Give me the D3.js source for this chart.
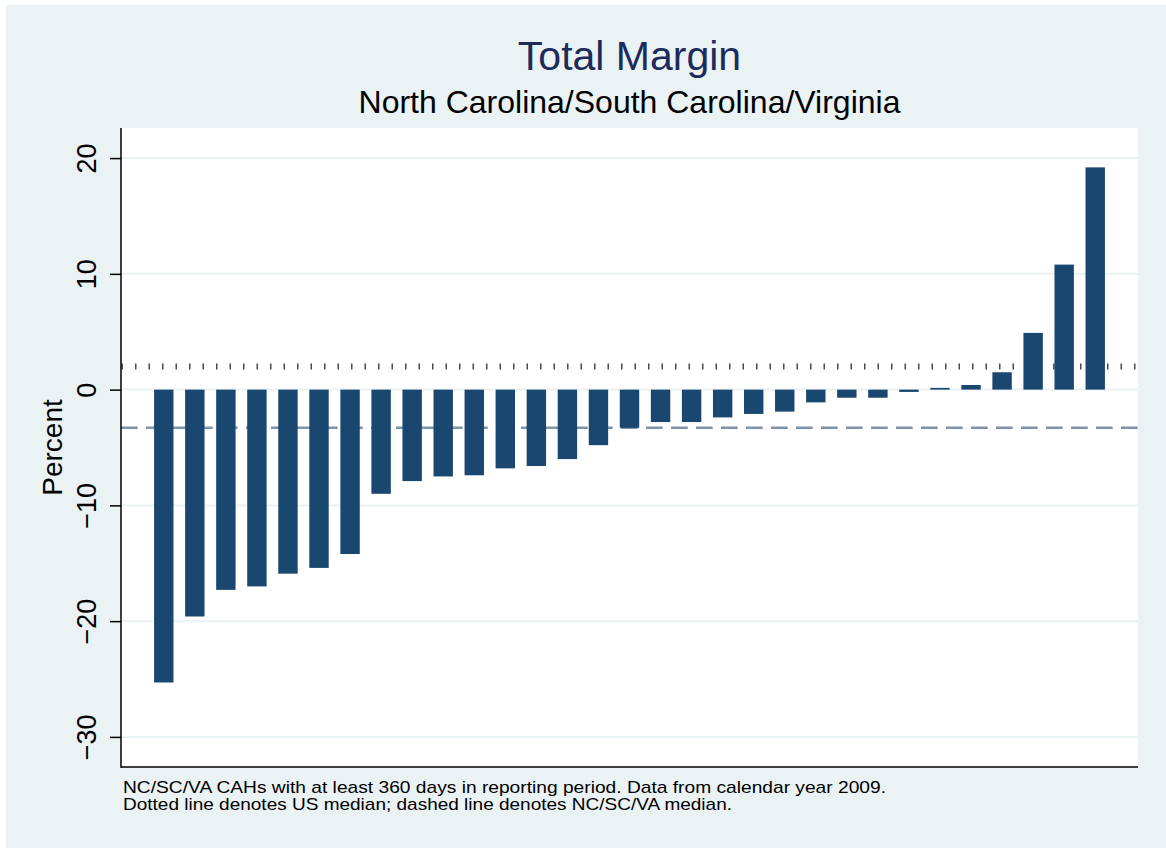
<!DOCTYPE html>
<html>
<head>
<meta charset="utf-8">
<script src="https://cdn.jsdelivr.net/npm/d3@7"></script>
<style>
  html, body { margin: 0; padding: 0; background: #ffffff; }
  svg { display: block; font-family: 'Liberation Sans', Arial, sans-serif; }
</style>
</head>
<body>
<svg id="chart" width="1166" height="848"></svg>
<script>
/* Total margin bar chart, hospitals sorted from lowest to highest */

// one bar per hospital, left to right
const margins = [-25.3, -19.6, -17.3, -17.0, -15.9, -15.4, -14.2, -9.0, -7.9, -7.5,
  -7.4, -6.8, -6.6, -6.0, -4.8, -3.3, -2.8, -2.8, -2.4, -2.1,
  -1.9, -1.1, -0.7, -0.7, -0.2, 0.15, 0.4, 1.5, 4.9, 10.8, 19.2]
const yTicks = [-30, -20, -10, 0, 10, 20]
const usMedian = 2.0
const stateMedian = -3.3

const titleText = 'Total Margin'
const subtitleText = 'North Carolina/South Carolina/Virginia'
const yLabel = 'Percent'
const notes = [
  'NC/SC/VA CAHs with at least 360 days in reporting period. Data from calendar year 2009.',
  'Dotted line denotes US median; dashed line denotes NC/SC/VA median.'
]
const noteWidths = [763, 609] // the note font runs wider than Arial

const svg = d3.select('#chart')
const plot = { left: 121, right: 1138, top: 128, bottom: 767 }

// graph region background
svg.append('rect')
  .attr('x', 6).attr('y', 5)
  .attr('width', 1160).attr('height', 843)
  .attr('fill', '#eaf2f3')

svg.append('rect')
  .attr('x', plot.left).attr('y', plot.top)
  .attr('width', plot.right - plot.left).attr('height', plot.bottom - plot.top)
  .attr('fill', '#ffffff')

const x = d3.scaleBand()
  .domain(margins.map((d, i) => i))
  .range([plot.left, plot.right])
  .paddingInner(0.375)
  .paddingOuter(1.065)

const y = d3.scaleLinear()
  .domain([-32.6, 22.6])
  .range([plot.bottom, plot.top])

// gridlines
svg.append('g')
  .selectAll('line')
  .data(yTicks)
  .join('line')
  .attr('x1', plot.left).attr('x2', plot.right)
  .attr('y1', d => y(d)).attr('y2', d => y(d))
  .style('stroke', '#eaf2f3')
  .style('stroke-width', 2)

// US median (dotted)
svg.append('line')
  .attr('x1', plot.left).attr('x2', plot.right)
  .attr('y1', y(usMedian)).attr('y2', y(usMedian))
  .style('stroke', '#4a4a4a')
  .style('stroke-width', 6)
  .style('stroke-dasharray', '1.5 12')
  .style('stroke-dashoffset', -0.5)

// state median (dashed)
svg.append('line')
  .attr('x1', plot.left).attr('x2', plot.right)
  .attr('y1', y(stateMedian)).attr('y2', y(stateMedian))
  .style('stroke', '#7f93aa')
  .style('stroke-width', 2.5)
  .style('stroke-dasharray', '16.7 8.3')

svg.append('g')
  .selectAll('rect')
  .data(margins)
  .join('rect')
  .attr('x', (d, i) => x(i))
  .attr('width', x.bandwidth())
  .attr('y', d => y(Math.max(0, d)))
  .attr('height', d => Math.abs(y(d) - y(0)))
  .attr('fill', '#1a476f')

// y axis
const yAxis = d3.axisLeft(y)
  .tickValues(yTicks)
  .tickSize(11)
  .tickPadding(0)
  .tickFormat(d => d < 0 ? '\u2212' + Math.abs(d) : d)

const gy = svg.append('g')
  .attr('transform', 'translate(' + plot.left + ',0)')
  .call(yAxis)
gy.select('.domain').remove()
gy.selectAll('.tick line').style('stroke', '#000').style('stroke-width', 1.5)
gy.selectAll('.tick text')
  .attr('x', null).attr('dy', null)
  .attr('transform', 'translate(-25,0) rotate(-90)')
  .attr('text-anchor', 'middle')
  .style('font-size', '27px')
  .style('font-family', "'Liberation Sans', Arial, sans-serif")
  .style('fill', '#000')

// axis lines
svg.append('line')
  .attr('x1', plot.left).attr('x2', plot.left)
  .attr('y1', plot.top).attr('y2', plot.bottom + 0.75)
  .style('stroke', '#000').style('stroke-width', 1.5)
svg.append('line')
  .attr('x1', plot.left).attr('x2', plot.right)
  .attr('y1', plot.bottom).attr('y2', plot.bottom)
  .style('stroke', '#000').style('stroke-width', 1.5)

svg.append('text')
  .text(yLabel)
  .attr('transform', 'translate(62,' + (plot.top + plot.bottom) / 2 + ') rotate(-90)')
  .attr('text-anchor', 'middle')
  .style('font-size', '28px')

const cx = (plot.left + plot.right) / 2
svg.append('text')
  .text(titleText)
  .attr('x', cx).attr('y', 70)
  .attr('text-anchor', 'middle')
  .style('font-size', '41px')
  .style('fill', '#1c2b5c')

svg.append('text')
  .text(subtitleText)
  .attr('x', cx).attr('y', 113)
  .attr('text-anchor', 'middle')
  .style('font-size', '32px')
  .style('fill', '#000')

svg.append('g')
  .selectAll('text')
  .data(notes)
  .join('text')
  .text(d => d)
  .attr('x', plot.left + 2)
  .attr('y', (d, i) => 793 + i * 17)
  .attr('textLength', (d, i) => noteWidths[i])
  .attr('lengthAdjust', 'spacingAndGlyphs')
  .style('font-size', '17px')
  .style('fill', '#000')
</script>
</body>
</html>
